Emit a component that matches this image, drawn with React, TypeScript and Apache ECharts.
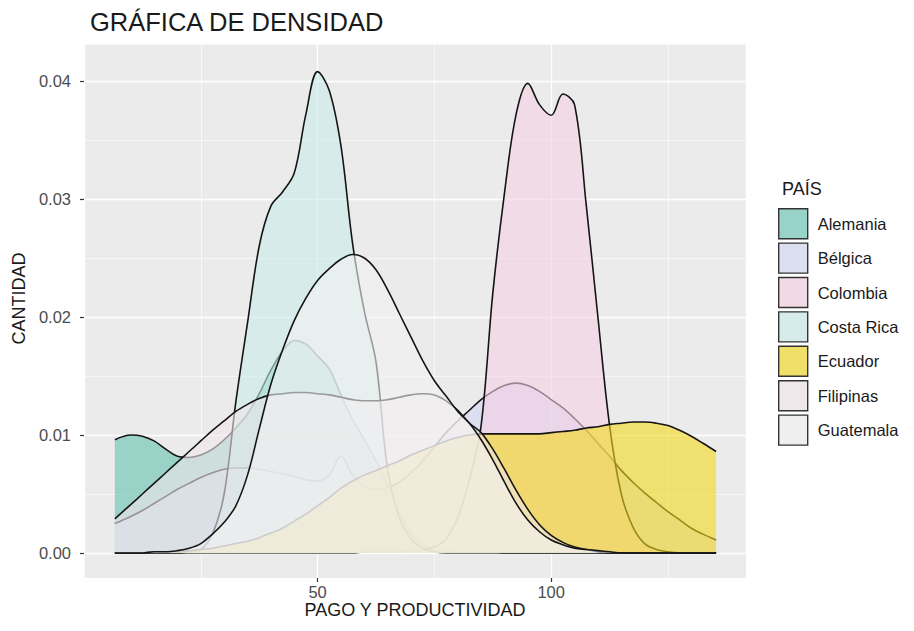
import React, { useEffect, useRef } from "react";
import * as echarts from "echarts";

// ---- data ----
const X = [6.6, 10, 12.5, 15, 17.5, 20, 22.5, 25, 27.5, 30, 32.5, 35, 37.5, 40, 42.5, 45, 47.5, 50, 52.5, 55, 57.5, 60, 62.5, 65, 67.5, 70, 72.5, 75, 77.5, 80, 82.5, 85, 87.5, 90, 92.5, 95, 97.5, 100, 102.5, 105, 107.5, 110, 112.5, 115, 117.5, 120, 122.5, 125, 127.5, 130, 132.5, 135.3];

const alemania = [0.0096, 0.01, 0.0099, 0.0095, 0.0088, 0.0082, 0.0081, 0.0083, 0.0088, 0.0096, 0.0106, 0.0118, 0.0135, 0.0155, 0.0171, 0.018, 0.0177, 0.0167, 0.0156, 0.0134, 0.0113, 0.0096, 0.0078, 0.0057, 0.0034, 0.0017, 0.0007, 0.0003, 0.0002, 0.0001, 0.0001, 0.0001, 0.0001, 0, 0, 0, 0, 0, 0, 0, 0, 0, 0, 0, 0, 0, 0, 0, 0, 0, 0, 0];

const belgica = [0.0025, 0.0031, 0.0036, 0.0042, 0.0048, 0.0054, 0.0059, 0.0064, 0.0068, 0.0071, 0.0072, 0.0072, 0.0071, 0.0069, 0.0067, 0.0065, 0.0062, 0.0061, 0.0066, 0.0082, 0.0066, 0.0056, 0.0054, 0.0055, 0.006, 0.0068, 0.0078, 0.009, 0.0102, 0.0112, 0.0121, 0.013, 0.0137, 0.0142, 0.0144, 0.0142, 0.0137, 0.013, 0.0123, 0.0114, 0.0104, 0.0093, 0.0082, 0.007, 0.006, 0.0051, 0.0043, 0.0035, 0.0028, 0.0021, 0.0016, 0.0011];

const colombia = [0, 0, 0, 0, 0, 0, 0, 0, 0, 0, 0, 0, 0, 0, 0, 0, 0, 0, 0, 0, 0, 0.0001, 0.0001, 0.0001, 0.0001, 0.0002, 0.0003, 0.0005, 0.0012, 0.003, 0.0062, 0.0108, 0.022, 0.0305, 0.0372, 0.0398, 0.038, 0.0371, 0.0389, 0.038, 0.0295, 0.02, 0.0108, 0.005, 0.0022, 0.0008, 0.0003, 0.0001, 0, 0, 0, 0];

const costaRica = [0, 0, 0, 0, 0, 0, 0.0001, 0.0003, 0.0016, 0.005, 0.0128, 0.0195, 0.026, 0.0294, 0.0306, 0.0322, 0.0372, 0.0408, 0.0392, 0.0345, 0.0262, 0.0205, 0.0162, 0.007, 0.003, 0.0012, 0.0004, 0.0001, 0, 0, 0, 0, 0, 0, 0, 0, 0, 0, 0, 0, 0, 0, 0, 0, 0, 0, 0, 0, 0, 0, 0, 0];

const ecuador = [0, 0, 0, 0.0001, 0.0001, 0.0001, 0.0002, 0.0003, 0.0004, 0.0006, 0.0008, 0.001, 0.0013, 0.0017, 0.0021, 0.0027, 0.0033, 0.004, 0.0047, 0.0055, 0.0061, 0.0066, 0.007, 0.0074, 0.0078, 0.0083, 0.0087, 0.0091, 0.0095, 0.0098, 0.01, 0.0101, 0.0101, 0.0101, 0.0101, 0.0101, 0.0101, 0.0102, 0.0103, 0.0104, 0.0106, 0.0107, 0.0109, 0.011, 0.0111, 0.0111, 0.011, 0.0108, 0.0104, 0.0099, 0.0093, 0.0086];

const filipinas = [0.0029, 0.0041, 0.005, 0.0059, 0.0068, 0.0077, 0.0086, 0.0095, 0.0104, 0.0112, 0.012, 0.0126, 0.0131, 0.0134, 0.0135, 0.0136, 0.0136, 0.0135, 0.0134, 0.0132, 0.013, 0.0129, 0.0129, 0.013, 0.0132, 0.0134, 0.0135, 0.0134, 0.0129, 0.0121, 0.011, 0.0102, 0.0088, 0.0071, 0.0053, 0.0037, 0.0024, 0.0015, 0.0009, 0.0005, 0.0003, 0.0001, 0, 0, 0, 0, 0, 0, 0, 0, 0, 0];

const guatemala = [0, 0, 0, 0.0001, 0.0001, 0.0002, 0.0004, 0.0008, 0.0016, 0.0026, 0.004, 0.0066, 0.0105, 0.0143, 0.0172, 0.0197, 0.0216, 0.0231, 0.0241, 0.0249, 0.0253, 0.025, 0.024, 0.0223, 0.0203, 0.0183, 0.0163, 0.0146, 0.0133, 0.012, 0.011, 0.0096, 0.0079, 0.006, 0.0042, 0.0028, 0.0018, 0.0011, 0.0007, 0.0004, 0.0003, 0.0002, 0.0001, 0, 0, 0, 0, 0, 0, 0, 0, 0];

const countries = ["Alemania", "Bélgica", "Colombia", "Costa Rica", "Ecuador", "Filipinas", "Guatemala"];
const densities = [alemania, belgica, colombia, costaRica, ecuador, filipinas, guatemala];

const xTickValues = [50, 100];
const yTickValues = [0, 0.01, 0.02, 0.03, 0.04];

// ---- styles ----
const FILL = ["#66C2B0", "#D2D7F3", "#F3D0E3", "#C9EDE9", "#F3D91E", "#F0E6E9", "#F2F2F2"];
const KEY = ["#98D3C9", "#DCDFF0", "#F1D9E6", "#D6ECEA", "#F0E06A", "#EEE8EA", "#EFEFEF"];
const FONT = "'Liberation Sans', Arial, Helvetica, sans-serif";
const X_MIN = 0;
const X_MAX = 141.7;
const Y_MAX = 0.04314;

export default function App() {
  const ref = useRef<HTMLDivElement>(null);

  useEffect(() => {
    if (!ref.current) return;
    const chart = echarts.init(ref.current, null, { renderer: "svg" });

    const hidden = { axisLine: { show: false }, axisTick: { show: false }, axisLabel: { show: false } };
    const major = { show: true, lineStyle: { color: "#FFFFFF", width: 1.3 } };
    const minor = { show: true, lineStyle: { color: "#FFFFFF", width: 0.6 } };

    const option: any = {
      animation: false,
      textStyle: { fontFamily: FONT },
      title: [
        {
          text: "GRÁFICA DE DENSIDAD",
          left: 85,
          top: 4,
          textStyle: { fontSize: 25.5, fontWeight: "normal", color: "#1A1A1A", fontFamily: FONT },
        },
        {
          text: "PAÍS",
          left: 777,
          top: 175,
          textStyle: { fontSize: 18, fontWeight: "normal", color: "#1A1A1A", fontFamily: FONT },
        },
      ],
      legend: {
        orient: "vertical",
        left: 778,
        top: 208,
        padding: 0,
        itemWidth: 29,
        itemHeight: 30,
        itemGap: 3,
        selectedMode: false,
        textStyle: { fontSize: 16.5, color: "#1A1A1A", fontFamily: FONT, padding: [0, 0, 0, 5] },
        data: countries.map((n, i) => ({
          name: n,
          icon: "rect",
          itemStyle: { color: KEY[i], borderColor: "#333333", borderWidth: 1.4 },
        })),
      },
      grid: [
        { left: 84, right: 168, top: 44, bottom: 78, show: true, backgroundColor: "#EBEBEB", borderWidth: 0 },
        { left: 84, right: 168, top: 553, bottom: 53, show: true, backgroundColor: "#EBEBEB", borderWidth: 0 },
      ],
      xAxis: [
        { gridIndex: 0, type: "value", min: X_MIN, max: X_MAX, interval: 25, position: "top", ...hidden, splitLine: minor },
        { gridIndex: 0, type: "value", min: X_MIN, max: X_MAX, interval: 50, ...hidden, splitLine: major },
        { gridIndex: 1, type: "value", min: X_MIN, max: X_MAX, interval: 25, position: "top", ...hidden, splitLine: minor },
        {
          gridIndex: 1,
          type: "value",
          min: X_MIN,
          max: X_MAX,
          interval: 50,
          position: "bottom",
          axisLine: { show: false },
          axisTick: { show: true, length: 4, customValues: xTickValues, lineStyle: { color: "#333333", width: 1.2 } },
          axisLabel: {
            show: true,
            customValues: xTickValues,
            margin: 5,
            fontSize: 16.5,
            color: "#4D4D4D",
            fontFamily: FONT,
            formatter: (v: number) => (xTickValues.includes(v) ? String(v) : ""),
          },
          splitLine: major,
          name: "PAGO Y PRODUCTIVIDAD",
          nameLocation: "middle",
          nameGap: 22,
          nameTextStyle: { fontSize: 18, color: "#1A1A1A", fontFamily: FONT },
        },
      ],
      yAxis: [
        { gridIndex: 0, type: "value", min: 0, max: Y_MAX, interval: 0.005, position: "right", ...hidden, splitLine: minor },
        {
          gridIndex: 0,
          type: "value",
          min: 0,
          max: Y_MAX,
          interval: 0.01,
          position: "left",
          axisLine: { show: false },
          axisTick: { show: true, length: 4, customValues: yTickValues, lineStyle: { color: "#333333", width: 1.2 } },
          axisLabel: {
            show: true,
            customValues: yTickValues,
            margin: 13,
            fontSize: 16.5,
            color: "#4D4D4D",
            fontFamily: FONT,
            formatter: (v: number) =>
              Math.abs(v * 100 - Math.round(v * 100)) < 1e-6 ? v.toFixed(2) : "",
          },
          splitLine: major,
          name: "CANTIDAD",
          nameLocation: "middle",
          nameRotate: 90,
          nameGap: 50,
          nameTextStyle: { fontSize: 18, color: "#1A1A1A", fontFamily: FONT },
        },
        { gridIndex: 1, type: "value", min: 0, max: 1, show: false },
      ],
      series: countries.map((n, i) => ({
        name: n,
        type: "line",
        xAxisIndex: 1,
        yAxisIndex: 1,
        z: 2 + i,
        data: X.map((x, j) => [x, densities[i][j]]),
        symbol: "none",
        smooth: 0.35,
        silent: true,
        lineStyle: { color: "#151515", width: 1.6 },
        itemStyle: { color: KEY[i] },
        areaStyle: { color: FILL[i], opacity: 0.6, origin: "start" },
      })),
    };

    chart.setOption(option);
    return () => chart.dispose();
  }, []);

  return (
    <div
      ref={ref}
      style={{ position: "absolute", left: 0, top: 0, width: 914, height: 631, background: "#FFFFFF" }}
    />
  );
}
